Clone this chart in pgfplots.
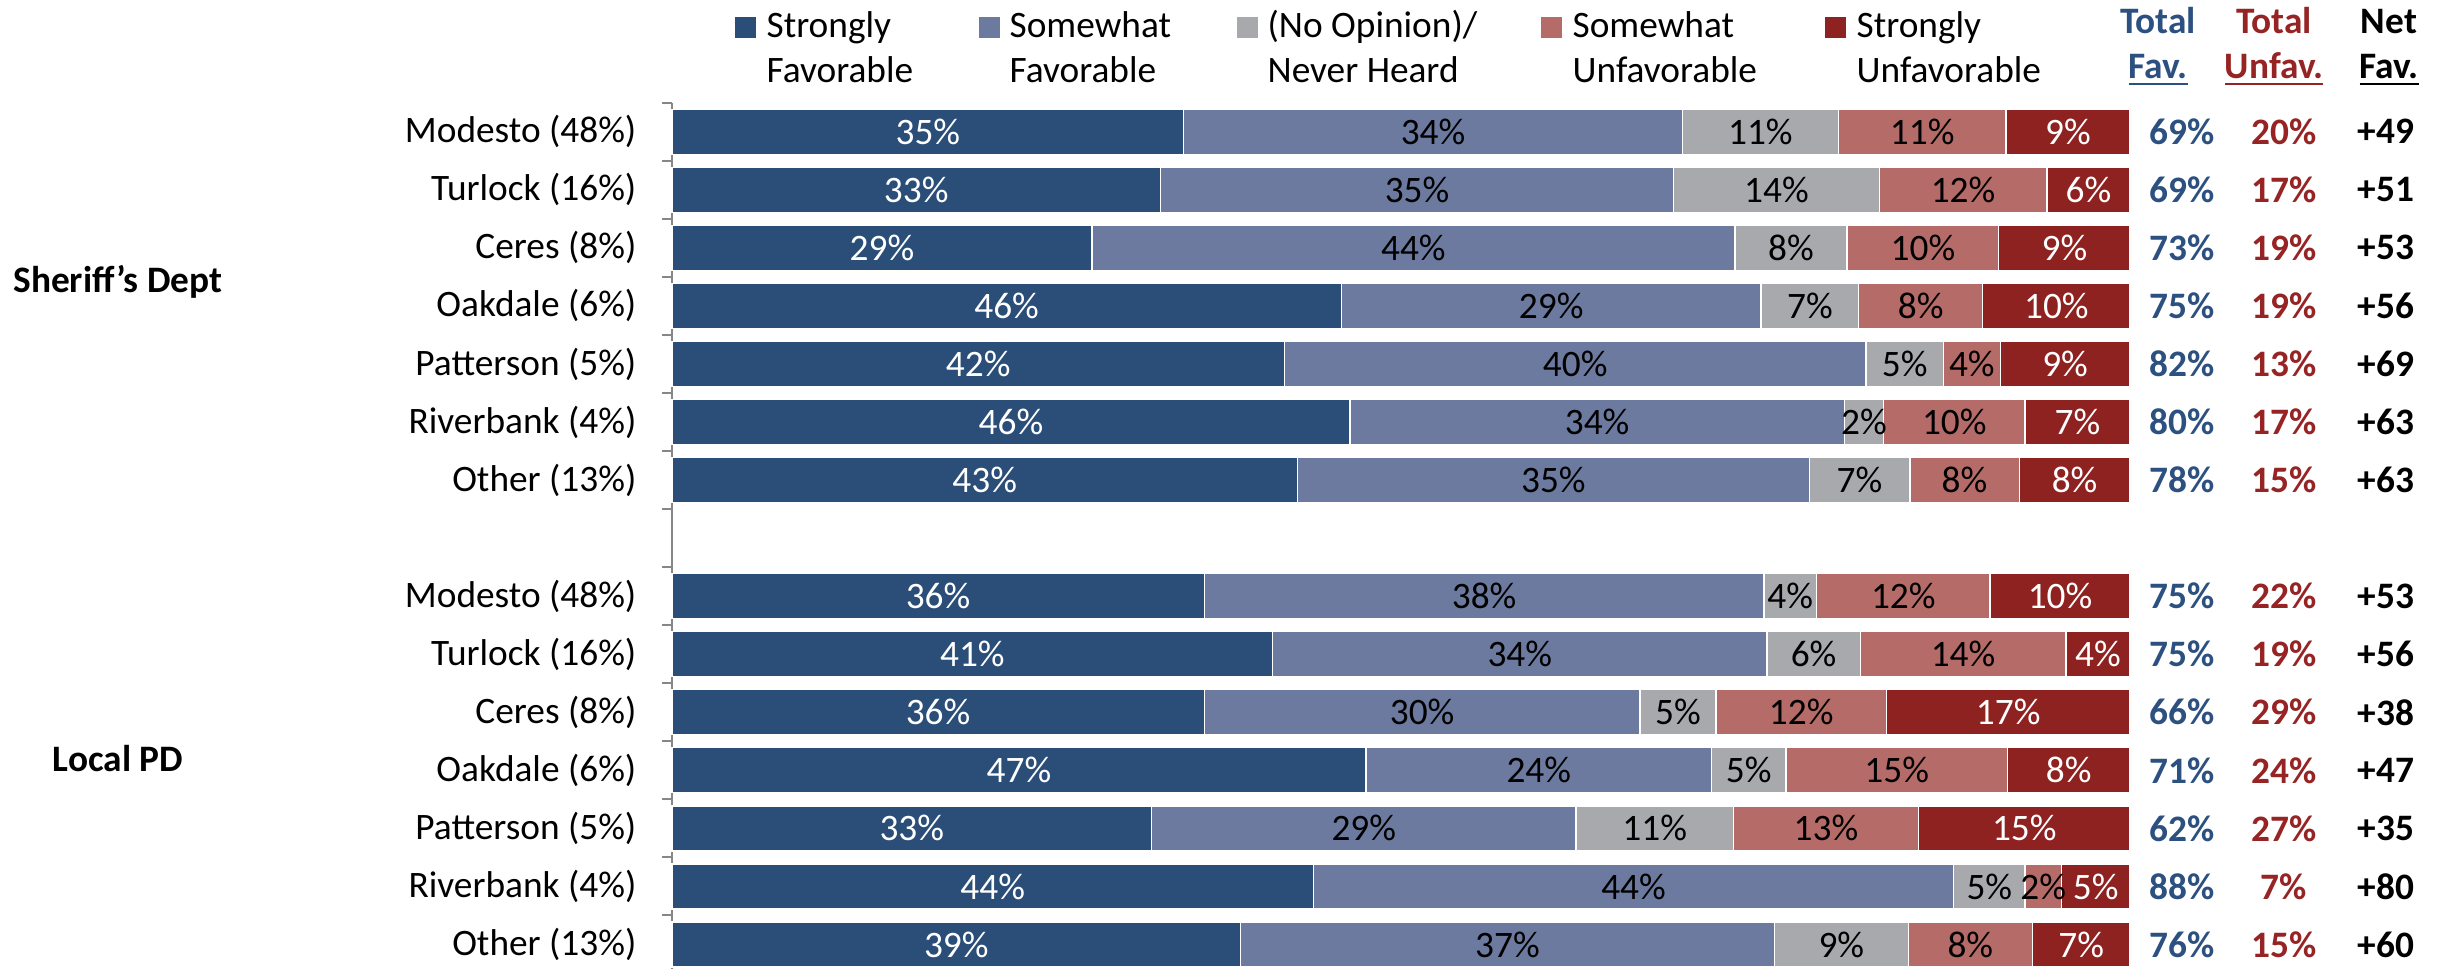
\documentclass[border=0pt]{standalone}
\usepackage{fontspec}
\setmainfont{Carlito}
\usepackage{pgfplots}
\usepackage{pgfplotstable}
\pgfplotsset{compat=1.18}
\definecolor{csf}{RGB}{42,78,120}
\definecolor{csof}{RGB}{107,122,158}
\definecolor{cno}{RGB}{168,169,173}
\definecolor{csou}{RGB}{181,107,104}
\definecolor{cstu}{RGB}{142,34,32}
\definecolor{tblue}{RGB}{44,80,128}
\definecolor{tred}{RGB}{150,36,36}
\definecolor{axisgray}{RGB}{134,134,134}
\newcommand\ff{\fontsize{11.2}{13.5}\selectfont}
\newcommand\ulx[1]{\setbox0\hbox{#1}\rlap{\rule[-2.1pt]{\wd0}{0.65pt}}\box0}

\pgfplotstableread{
y  a    b    c    d    e    la lb lc ld le
14 35.1 34.2 10.7 11.5 8.5  35 34 11 11 9
13 33.5 35.2 14.1 11.5 5.7  33 35 14 12 6
12 28.8 44.1 7.7  10.4 9.0  29 44 8  10 9
11 45.9 28.8 6.7  8.5  10.1 46 29 7  8  10
10 42.0 39.9 5.3  3.9  8.9  42 40 5  4  9
9  46.5 33.9 2.7  9.7  7.2  46 34 2  10 7
8  42.9 35.1 6.9  7.5  7.6  43 35 7  8  8
6  36.5 38.4 3.6  11.9 9.6  36 38 4  12 10
5  41.2 33.9 6.4  14.1 4.4  41 34 6  14 4
4  36.5 29.9 5.2  11.7 16.7 36 30 5  12 17
3  47.6 23.7 5.1  15.2 8.4  47 24 5  15 8
2  32.9 29.1 10.8 12.7 14.5 33 29 11 13 15
1  44.0 43.9 4.9  2.5  4.7  44 44 5  2  5
0  39.0 36.6 9.2  8.5  6.7  39 37 9  8  7
}\bars

\pgfplotstableread{
y  fav unf net
14 69 20 +49
13 69 17 +51
12 73 19 +53
11 75 19 +56
10 82 13 +69
9  80 17 +63
8  78 15 +63
6  75 22 +53
5  75 19 +56
4  66 29 +38
3  71 24 +47
2  62 27 +35
1  88 7  +80
0  76 15 +60
}\totals

\begin{document}
\begin{tikzpicture}[font=\ff]
\begin{axis}[
  xbar stacked,
  bar width=13.5pt,
  scale only axis,
  width=437.4pt, height=261.24pt,
  xmin=0, xmax=100, ymin=-0.5, ymax=14.5,
  axis x line=none,
  axis y line*=left,
  y axis line style={draw=axisgray, line width=0.6pt},
  xtick=\empty,
  ytick={0,1,2,3,4,5,6,8,9,10,11,12,13,14},
  yticklabels={Other (13\%), Riverbank (4\%), Patterson (5\%), Oakdale (6\%), Ceres (8\%), Turlock (16\%), Modesto (48\%),
               Other (13\%), Riverbank (4\%), Patterson (5\%), Oakdale (6\%), Ceres (8\%), Turlock (16\%), Modesto (48\%)},
  major tick length=0pt,
  yticklabel style={inner sep=0pt, anchor=east, xshift=-10.5pt, font=\ff},
  extra y ticks={-0.5,0.5,...,14.5},
  extra y tick labels={},
  extra y tick style={major tick length=3pt, tick align=outside, tick style={draw=axisgray, line width=0.6pt}},
  clip=false,
  point meta=explicit symbolic,
  nodes near coords={\pgfplotspointmeta\%},
  every node near coord/.append style={font=\ff, anchor=center, inner sep=0pt},
]
\addplot[fill=csf, draw=white, line width=0.4pt, every node near coord/.append style={text=white}] table[x=a, y=y, meta=la] {\bars};
\addplot[fill=csof, draw=white, line width=0.4pt, every node near coord/.append style={text=black}] table[x=b, y=y, meta=lb] {\bars};
\addplot[fill=cno, draw=white, line width=0.4pt, every node near coord/.append style={text=black}] table[x=c, y=y, meta=lc] {\bars};
\addplot[fill=csou, draw=white, line width=0.4pt, every node near coord/.append style={text=black}] table[x=d, y=y, meta=ld] {\bars};
\addplot[fill=cstu, draw=white, line width=0.4pt, every node near coord/.append style={text=white}] table[x=e, y=y, meta=le] {\bars};
\node[font=\ff\bfseries, anchor=center] at (axis cs:-38,11.41) {Sheriff’s Dept};
\node[font=\ff\bfseries, anchor=center] at (axis cs:-38,3.21) {Local PD};
\end{axis}

\begin{axis}[
  scale only axis,
  width=437.4pt, height=261.24pt,
  xmin=0, xmax=100, ymin=-0.5, ymax=14.5,
  hide axis, clip=false,
  point meta=explicit symbolic,
  nodes near coords,
  every node near coord/.append style={font=\ff\bfseries, anchor=center, inner sep=0pt},
]
\addplot[only marks, mark=*, mark size=0pt, mark options={draw=none, fill=none}, every node near coord/.append style={text=tblue}, nodes near coords={\pgfplotspointmeta\%}] table[x expr=103.57, y=y, meta=fav] {\totals};
\addplot[only marks, mark=*, mark size=0pt, mark options={draw=none, fill=none}, every node near coord/.append style={text=tred}, nodes near coords={\pgfplotspointmeta\%}] table[x expr=110.56, y=y, meta=unf] {\totals};
\addplot[only marks, mark=*, mark size=0pt, mark options={draw=none, fill=none}, every node near coord/.append style={text=black}] table[x expr=117.56, y=y, meta=net] {\totals};
\end{axis}

% legend
\fill[csf]  (18.9pt,280.65pt) rectangle ++(6.2pt,6.2pt);
\node[anchor=base west, inner sep=0pt] at (28.2pt,280.95pt) {Strongly};
\node[anchor=base west, inner sep=0pt] at (28.2pt,267.45pt) {Favorable};
\fill[csof] (92.1pt,280.65pt) rectangle ++(6.2pt,6.2pt);
\node[anchor=base west, inner sep=0pt] at (101.1pt,280.95pt) {Somewhat};
\node[anchor=base west, inner sep=0pt] at (101.1pt,267.45pt) {Favorable};
\fill[cno]  (169.5pt,280.65pt) rectangle ++(6.2pt,6.2pt);
\node[anchor=base west, inner sep=0pt] at (178.5pt,280.95pt) {(No Opinion)/};
\node[anchor=base west, inner sep=0pt] at (178.5pt,267.45pt) {Never Heard};
\fill[csou] (260.7pt,280.65pt) rectangle ++(6.2pt,6.2pt);
\node[anchor=base west, inner sep=0pt] at (270.0pt,280.95pt) {Somewhat};
\node[anchor=base west, inner sep=0pt] at (270.0pt,267.45pt) {Unfavorable};
\fill[cstu] (345.9pt,280.65pt) rectangle ++(6.2pt,6.2pt);
\node[anchor=base west, inner sep=0pt] at (355.2pt,280.95pt) {Strongly};
\node[anchor=base west, inner sep=0pt] at (355.2pt,267.45pt) {Unfavorable};

% column headers
\node[anchor=base, inner sep=0pt, text=tblue, font=\ff\bfseries] at (445.8pt,282.15pt) {Total};
\node[anchor=base, inner sep=0pt, text=tblue, font=\ff\bfseries] at (445.8pt,268.65pt) {\ulx{Fav.}};
\node[anchor=base, inner sep=0pt, text=tred, font=\ff\bfseries] at (480.6pt,282.15pt) {Total};
\node[anchor=base, inner sep=0pt, text=tred, font=\ff\bfseries] at (480.6pt,268.65pt) {\ulx{Unfav.}};
\node[anchor=base, inner sep=0pt, text=black, font=\ff\bfseries] at (515.1pt,282.15pt) {Net};
\node[anchor=base, inner sep=0pt, text=black, font=\ff\bfseries] at (515.1pt,268.65pt) {\ulx{Fav.}};

\pgfresetboundingbox
\useasboundingbox (-201.6pt,1.65pt) rectangle (529.5pt,292.05pt);
\end{tikzpicture}
\end{document}
